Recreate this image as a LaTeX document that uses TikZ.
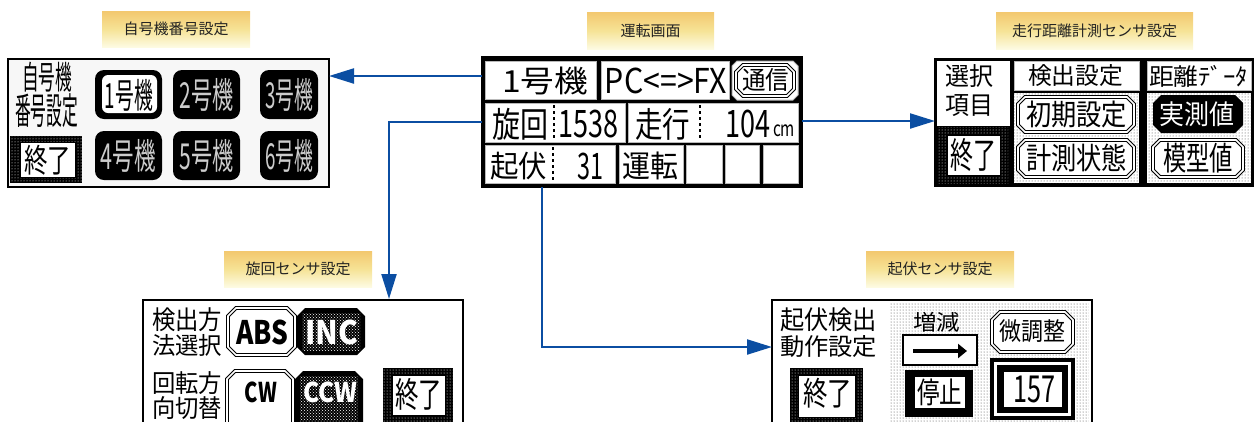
\documentclass[tikz,border=0pt]{standalone}
\usepackage{fontspec}
\setmainfont{Noto Sans CJK JP}
\usetikzlibrary{arrows.meta,patterns}
\definecolor{arrowblue}{HTML}{0B4EA2}
\definecolor{lbltop}{HTML}{F3C86F}
\definecolor{lblmid}{HTML}{F6E396}
\definecolor{lblbot}{HTML}{FDFBE3}
\definecolor{lbltxt}{HTML}{222222}
\newcommand\ptxt[6]{\node[txt] (#1) at ({(#2+#4)/2},{(#3+#5)/2}) {\resizebox*{\dimexpr #4pt-#2pt\relax}{\dimexpr #5pt-#3pt\relax}{#6}};}
\newcommand\octa[6][]{\path[#1] ({#2+#6},#3) -- ({#4-#6},#3) -- (#4,{#3+#6}) -- (#4,{#5-#6}) -- ({#4-#6},#5) -- ({#2+#6},#5) -- (#2,{#5-#6}) -- (#2,{#3+#6}) -- cycle;}
\tikzset{
  txt/.style={inner sep=0pt, outer sep=0pt, anchor=center},
  screen/.style={draw=black, line width=2pt, inner sep=0pt, outer sep=0pt, anchor=north west},
  lbl/.style={top color=lbltop, bottom color=lblbot, middle color=lblmid, inner sep=0pt, anchor=north west,
    text=lbltxt, font=\fontsize{15pt}{15pt}\selectfont},
  arr/.style={draw=arrowblue, line width=2.2pt, -{Triangle[length=25pt,width=15pt]}},
  cell/.style={fill=white, draw=gray!55, line width=1pt},
  dbl/.style={draw=black, line width=1pt, double=white, double distance=1.6pt, fill=white},
  chk/.style={preaction={fill=black}, pattern=dots, pattern color=white},
  dotsbg/.style={preaction={fill=white}, pattern=dots, pattern color=black!75},
  panel/.style={draw=black, line width=0.8pt, double=white, double distance=1.2pt},
  vdash/.style={draw=black, line width=1.5pt, dash pattern=on 3pt off 3pt},
  wbox/.style={fill=white, draw=black, line width=1pt},
  xdot/.style={pattern=crosshatch dots, pattern color=white}
}
\begin{document}
\begin{tikzpicture}[x=1pt,y=-1pt]
\useasboundingbox (0,0) rectangle (1256,421);
\clip (0,0) rectangle (1256,421);

% labels
\node[lbl, minimum width=148pt, minimum height=36pt] (lab1) at (102,11) {自号機番号設定};
\node[lbl, minimum width=127pt, minimum height=37pt] (lab2) at (587,12) {運転画面};
\node[lbl, minimum width=197pt, minimum height=37pt] (lab3) at (996,12) {走行距離計測センサ設定};
\node[lbl, minimum width=148pt, minimum height=36pt] (lab4) at (224,251) {旋回センサ設定};
\node[lbl, minimum width=148pt, minimum height=36pt] (lab5) at (866,251) {起伏センサ設定};

% screens
\node[screen, fill=gray!6, minimum width=321pt, minimum height=128pt] (scrL) at (8,59) {};
\node[screen, fill=black, minimum width=320pt, minimum height=130pt] (scrM) at (482,57) {};
\node[screen, fill=black, minimum width=318pt, minimum height=127pt] (scrR) at (935,59) {};
\node[screen, fill=white, minimum width=320pt, minimum height=145pt] (scrBL) at (143,300) {};
\node[screen, fill=white, minimum width=320pt, minimum height=145pt] (scrBR) at (772,300) {};

% ---- left screen
\ptxt{lA}{22}{62}{72}{92}{自号機}
\ptxt{lB}{15}{94}{78}{128}{番号設定}
\path[chk] (10,136) rectangle (82,183);
\path[wbox] (20,142) rectangle (75,177);
\ptxt{lC}{24}{145}{71}{175}{終了}
\path[fill=black, rounded corners=9pt] (95,70) rectangle (162,119);
\path[fill=black, rounded corners=9pt] (173,70) rectangle (240,119);
\path[fill=black, rounded corners=9pt] (260,70) rectangle (318,119);
\path[fill=black, rounded corners=9pt] (95,131) rectangle (162,180);
\path[fill=black, rounded corners=9pt] (173,131) rectangle (240,180);
\path[fill=black, rounded corners=9pt] (260,131) rectangle (318,180);
\path[fill=white, rounded corners=6pt] (102,75) rectangle (157,113);
\ptxt{lD}{105}{79}{153}{111}{1号機}
\ptxt{lE}{180}{78}{234}{111}{\textcolor{gray!40}{2号機}}
\ptxt{lF}{265}{78}{313}{111}{\textcolor{gray!40}{3号機}}
\ptxt{lG}{101}{139}{156}{172}{\textcolor{gray!40}{4号機}}
\ptxt{lH}{180}{139}{234}{172}{\textcolor{gray!40}{5号機}}
\ptxt{lI}{265}{139}{313}{172}{\textcolor{gray!40}{6号機}}

% ---- center screen
\path[cell] (485,61) rectangle (596,99);
\path[cell] (601,61) rectangle (729,99);
\octa[cell]{732}{61}{798}{100}{5}
\octa[dbl]{736}{65}{794}{96}{7}
\ptxt{m1}{502}{67}{588}{95}{1号機}
\ptxt{m2}{605}{68}{727}{94}{PC<=>FX}
\ptxt{m3}{742}{69}{789}{92}{通信}
\path[cell] (485,103) rectangle (625,142);
\path[cell] (628,103) rectangle (798,142);
\path[vdash] (554,105) -- (554,140);
\path[vdash] (700,105) -- (700,140);
\ptxt{m4}{492}{108}{548}{140}{旋回}
\ptxt{m5}{558}{110}{618}{138}{1538}
\ptxt{m6}{635}{108}{690}{140}{走行}
\ptxt{m7}{725}{110}{770}{138}{104}
\ptxt{m8}{773}{125}{795}{137}{cm}
\path[cell] (485,145) rectangle (615,183);
\path[cell] (619,145) rectangle (683,183);
\path[cell] (686,145) rectangle (722,183);
\path[cell] (725,145) rectangle (759,183);
\path[cell] (763,145) rectangle (798,183);
\path[vdash] (553,147) -- (553,181);
\ptxt{m9}{490}{152}{547}{180}{起伏}
\ptxt{m10}{577}{153}{603}{180}{31}
\ptxt{m11}{622}{152}{678}{180}{運転}

% ---- right screen
\path[fill=white] (937,61) rectangle (1010,126);
\ptxt{r1}{945}{65}{993}{88}{選択}
\ptxt{r2}{945}{95}{993}{117}{項目}
\path[chk] (937,127) rectangle (1008,183);
\path[wbox] (947,135) rectangle (1000,175);
\ptxt{r3}{950}{139}{996}{172}{終了}
\path[cell] (1014,61) rectangle (1139,90);
\ptxt{r4}{1028}{65}{1123}{87}{検出設定}
\path[dotsbg] (1014,93) rectangle (1139,183);
\octa[dbl]{1018}{97}{1134}{132}{7}
\ptxt{r5}{1026}{101}{1127}{128}{初期設定}
\octa[dbl]{1018}{140}{1134}{177}{7}
\ptxt{r6}{1026}{144}{1127}{172}{計測状態}
\path[cell] (1147,61) rectangle (1251,90);
\ptxt{r7}{1149}{65}{1248}{87}{距離ﾃﾞｰﾀ}
\path[dotsbg] (1147,93) rectangle (1251,183);
\octa[fill=black]{1153}{95}{1243}{133}{8}
\ptxt{r8}{1159}{102}{1234}{127}{\textcolor{white}{実測値}}
\octa[dbl]{1153}{140}{1243}{177}{7}
\ptxt{r9}{1163}{143}{1233}{173}{模型値}

% ---- bottom-left screen
\path[panel] (147,304) rectangle (459,362);
\ptxt{b1}{152}{308}{222}{332}{検出方}
\ptxt{b2}{152}{334}{222}{356}{法選択}
\octa[dbl]{228}{308}{295}{355}{8}
\ptxt{b3}{236}{320}{288}{345}{\bfseries ABS}
\octa[fill=black]{297}{308}{365}{355}{8}
\path[xdot] (302,313) rectangle (360,350);
\ptxt{b4}{305}{320}{358}{345}{\textcolor{white}{\bfseries INC}}
\path[panel] (147,366) rectangle (368,450);
\ptxt{b5}{152}{372}{222}{395}{回転方}
\ptxt{b6}{152}{397}{222}{420}{向切替}
\octa[dbl]{227}{371}{293}{440}{8}
\ptxt{b7}{245}{382}{277}{403}{\bfseries CW}
\octa[fill=black]{295}{371}{363}{440}{8}
\path[xdot] (300,376) rectangle (358,435);
\ptxt{b8}{303}{382}{357}{403}{\textcolor{white}{\bfseries CCW}}
\path[chk] (383,368) rectangle (453,445);
\path[wbox] (392,375) rectangle (445,415);
\ptxt{b9}{395}{378}{442}{410}{終了}

% ---- bottom-right screen
\ptxt{c1}{780}{308}{877}{332}{起伏検出}
\ptxt{c2}{780}{336}{877}{358}{動作設定}
\path[chk] (790,368) rectangle (863,445);
\path[wbox] (798,375) rectangle (855,417);
\ptxt{c3}{803}{378}{852}{408}{終了}
\path[dotsbg] (888,302) rectangle (1090,445);
\path[panel] (888,302) rectangle (1090,445);
\ptxt{c4}{913}{312}{960}{332}{増減}
\path[fill=white, draw=black, line width=1.5pt] (903,335) rectangle (977,365);
\path[draw=black, line width=3.5pt, -{Triangle[length=9pt,width=14pt]}] (913,351) -- (967,351);
\path[fill=black] (905,370) rectangle (973,417);
\path[fill=white] (915,377) rectangle (965,408);
\ptxt{c5}{917}{379}{962}{406}{停止}
\octa[dbl]{992}{312}{1073}{352}{8}
\ptxt{c6}{999}{320}{1065}{343}{微調整}
\path[fill=black] (990,358) rectangle (1075,420);
\path[fill=white] (994,362) rectangle (1071,416);
\path[fill=black] (997,365) rectangle (1068,413);
\path[wbox] (1003,371) rectangle (1062,407);
\ptxt{c7}{1013}{376}{1055}{403}{157}

% ---- connectors
\draw[arr] (scrM.west |- 0,76) -- (scrL.east |- 0,76);
\draw[arr, shorten >=1pt] (scrM.west |- 0,122) -| (scrBL.north -| 389,0);
\draw[arr] (scrM.east |- 0,121) -- (scrR.west |- 0,121);
\draw[arr] (scrM.south -| 542,0) |- (scrBR.west |- 0,347);
\end{tikzpicture}
\end{document}
